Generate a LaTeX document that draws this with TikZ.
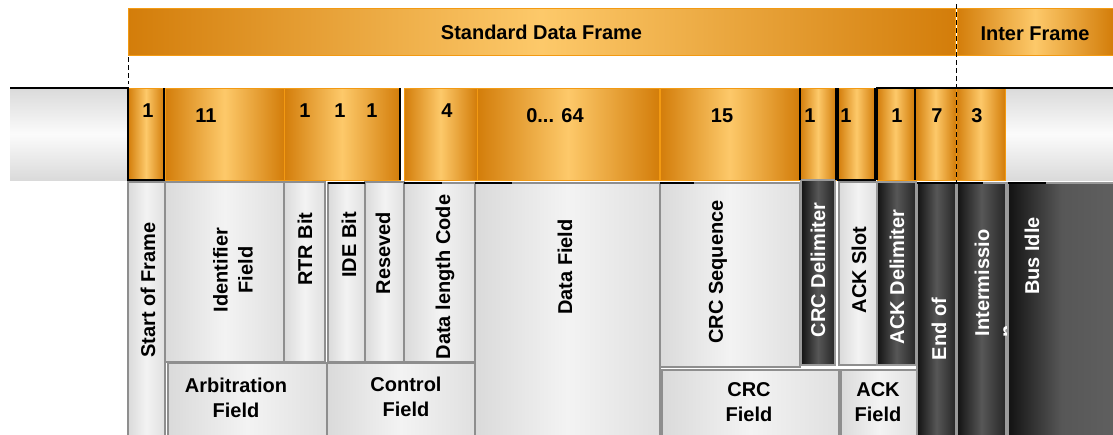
\documentclass[tikz,border=0pt]{standalone}
\usepackage{fontspec}
\setmainfont{Liberation Sans}
\usetikzlibrary{fit}

\definecolor{ordark}{HTML}{D37D0A}
\definecolor{orlight}{HTML}{FDC96A}
\definecolor{oredge}{HTML}{F39A12}
\definecolor{gredge}{HTML}{8E8E8E}
\definecolor{gleft}{HTML}{DADADA}
\definecolor{gmid}{HTML}{F3F3F3}
\definecolor{gright}{HTML}{E0E0E0}
\definecolor{dleft}{HTML}{121212}
\definecolor{dmid}{HTML}{575757}
\definecolor{dright}{HTML}{262626}
\definecolor{dedge}{HTML}{9A9A9A}

\begin{document}
\begin{tikzpicture}[x=1pt,y=-1pt,
  font=\fontsize{20}{25}\selectfont\bfseries,
  cell/.style={fit={#1}, inner sep=0pt, outer sep=0pt, rectangle},
  barbox/.style={left color=ordark, right color=ordark, middle color=orlight, draw=oredge, line width=1pt},
  bitbox/.style={left color=ordark, right color=ordark, middle color=orlight, draw=oredge, line width=1pt},
  idlebox/.style={top color=gleft, bottom color=gleft, middle color=white!97!gray, draw=none},
  fieldbox/.style={left color=gleft, right color=gright, middle color=gmid, draw=gredge, line width=1.2pt},
  darkbox/.style={left color=dleft, right color=dright, middle color=dmid, draw=dedge, line width=1.2pt},
  num/.style={anchor=base, inner sep=0pt, text=black},
  vlbl/.style={rotate=90, inner sep=0pt, text=black, align=center},
  wlbl/.style={vlbl, text=white},
  hlbl/.style={inner sep=0pt, text=black, align=center},
  wave/.style={black, line width=1.6pt},
  frameline/.style={black, line width=1pt, dash pattern=on 5pt off 3pt}]

\useasboundingbox (0,0) rectangle (1113,434);

% frame bars along the top
\node[barbox, cell={(128,8) (955,55)}] (sdf) {};
\node[barbox, cell={(957,8) (1113,55)}] (ifr) {};
\node[num] (tsdf) at (541.5,39) {Standard Data Frame};
\node[num] (tifr) at (1035,40) {Inter Frame};

% bus level before and after the frame
\node[idlebox, cell={(10,88) (127,180)}] (idlel) {};
\node[idlebox, cell={(1005,88) (1113,180)}] (idler) {};

% bit count cells
\node[bitbox, cell={(128,88) (164,180)}] (bsof) {};
\node[bitbox, cell={(165,88) (284,180)}] (bid) {};
\node[bitbox, cell={(284,88) (400,180)}] (bctl) {};
\node[bitbox, cell={(404,88) (477,180)}] (bdlc) {};
\node[bitbox, cell={(477,88) (659,180)}] (bdata) {};
\node[bitbox, cell={(660,88) (799,180)}] (bcrc) {};
\node[bitbox, cell={(800,88) (836,180)}] (bcrcd) {};
\node[bitbox, cell={(838,88) (875,180)}] (backs) {};
\node[bitbox, cell={(877,88) (914,180)}] (backd) {};
\node[bitbox, cell={(915,88) (956,180)}] (beof) {};
\node[bitbox, cell={(956,88) (1005,180)}] (bint) {};

\node[num] (n1) at (148,117) {1};
\node[num] (n2) at (206,122) {11};
\node[num] (n3) at (305,117) {1};
\node[num] (n4) at (340,117) {1};
\node[num] (n5) at (372,117) {1};
\node[num] (n6) at (447,117) {4};
\node[num] (n7) at (555,122) {0... 64};
\node[num] (n8) at (722,122) {15};
\node[num] (n9) at (810,122) {1};
\node[num] (n10) at (846,122) {1};
\node[num] (n11) at (897,122) {1};
\node[num] (n12) at (937,122) {7};
\node[num] (n13) at (977,122) {3};

% field cells
\node[fieldbox, cell={(128,182) (165,436)}] (fsof) {};
\node[fieldbox, cell={(165,182) (284,362)}] (fid) {};
\node[fieldbox, cell={(284,182) (325,362)}] (frtr) {};
\node[fieldbox, cell={(328,183) (365,362)}] (fide) {};
\node[fieldbox, cell={(365,182) (404,362)}] (fres) {};
\node[fieldbox, cell={(404,183) (475,362)}] (fdlc) {};
\node[fieldbox, cell={(168,363) (327,436)}] (farb) {};
\node[fieldbox, cell={(327,363) (475,436)}] (fctl) {};
\node[fieldbox, cell={(475,183) (660,436)}] (fdata) {};
\node[fieldbox, cell={(660,183) (800,367)}] (fcrcs) {};
\node[darkbox, cell={(801,180) (835,365)}] (fcrcd) {};
\node[fieldbox, cell={(662,370) (839,436)}] (fcrc) {};
\node[fieldbox, cell={(839,182) (877,365)}] (facks) {};
\node[darkbox, cell={(877,182) (916,365)}] (fackd) {};
\node[fieldbox, cell={(841,370) (917,436)}] (fack) {};
\node[darkbox, cell={(917,183) (956,436)}] (feof) {};
\node[darkbox, cell={(957,183) (1006,436)}] (fint) {};

% second line of the intermission label, cut off by its cell
\begin{scope}
  \clip (957,183) rectangle (1006,434);
  \node[wlbl, anchor=base west] (tintn) at (1014,338) {n};
\end{scope}

% bus idle cell: dark on the left, lighter towards the right edge
\node[darkbox, right color=dmid!95!white, middle color=dmid, cell={(1008,183) (1115,436)}] (fidle) {};

% field names
\node[vlbl] (tsof) at (148,290) {Start of Frame};
\node[vlbl] (tid) at (233,270) {Identifier\\Field};
\node[vlbl] (trtr) at (305,249) {RTR Bit};
\node[vlbl] (tide) at (349,245) {IDE Bit};
\node[vlbl] (tres) at (383,253) {Reseved};
\node[vlbl] (tdlc) at (445,277) {Data length Code};
\node[hlbl] (tarb) at (236,398) {Arbitration\\Field};
\node[hlbl] (tctl) at (406,397) {Control\\Field};
\node[vlbl] (tdata) at (565,267) {Data Field};
\node[vlbl] (tcrcs) at (718,272) {CRC Sequence};
\node[wlbl] (tcrcd) at (818,270) {CRC Delimiter};
\node[hlbl] (tcrc) at (749,402) {CRC\\Field};
\node[vlbl] (tacks) at (859,270) {ACK Slot};
\node[wlbl] (tackd) at (897,277) {ACK Delimiter};
\node[hlbl] (tack) at (878,402) {ACK\\Field};
\node[wlbl] (teof) at (939,329) {End of};
\node[wlbl] (tint) at (982,283) {Intermissio};
\node[wlbl] (tidle) at (1032,256) {Bus Idle};

% bus waveform
\draw[wave] (idlel.north west) -- (bsof.north west) -- (bsof.south west)
  -- (bsof.south east) -- (bsof.north east);
\draw[wave] (bctl.north east) -- (bctl.south east);
\draw[wave] (bcrcd.north west) -- (bcrcd.south west);
\draw[wave] (bcrcd.north east) -- (bcrcd.south east);
\draw[wave] (backs.north west) -- (backs.south west) -- (backs.south east) -- (backs.north east);
\draw[wave] (backd.south west) -- (backd.north west) -- (idler.north east);
\draw[wave] (beof.north west) -- (beof.south west);
\draw[wave] (fide.north west) -- (fide.north east);
\draw[wave] (fdlc.north west) -- ++(38,0);
\draw[wave] (fdata.north west) -- ++(37,0);
\draw[wave] (fcrcs.north west) -- ++(34,0);
\draw[wave] (feof.north west) -- ++(66,0);
\draw[wave] (fidle.north west) -- ++(38,0);

% frame boundaries
\coordinate (sdfa) at (128,57);
\coordinate (sdfb) at (128,84);
\draw[frameline] (sdfa) -- (sdfb);
\coordinate (ifa) at (956,4);
\coordinate (ifb) at (956,183);
\draw[frameline] (ifa) -- (ifb);
\end{tikzpicture}
\end{document}
